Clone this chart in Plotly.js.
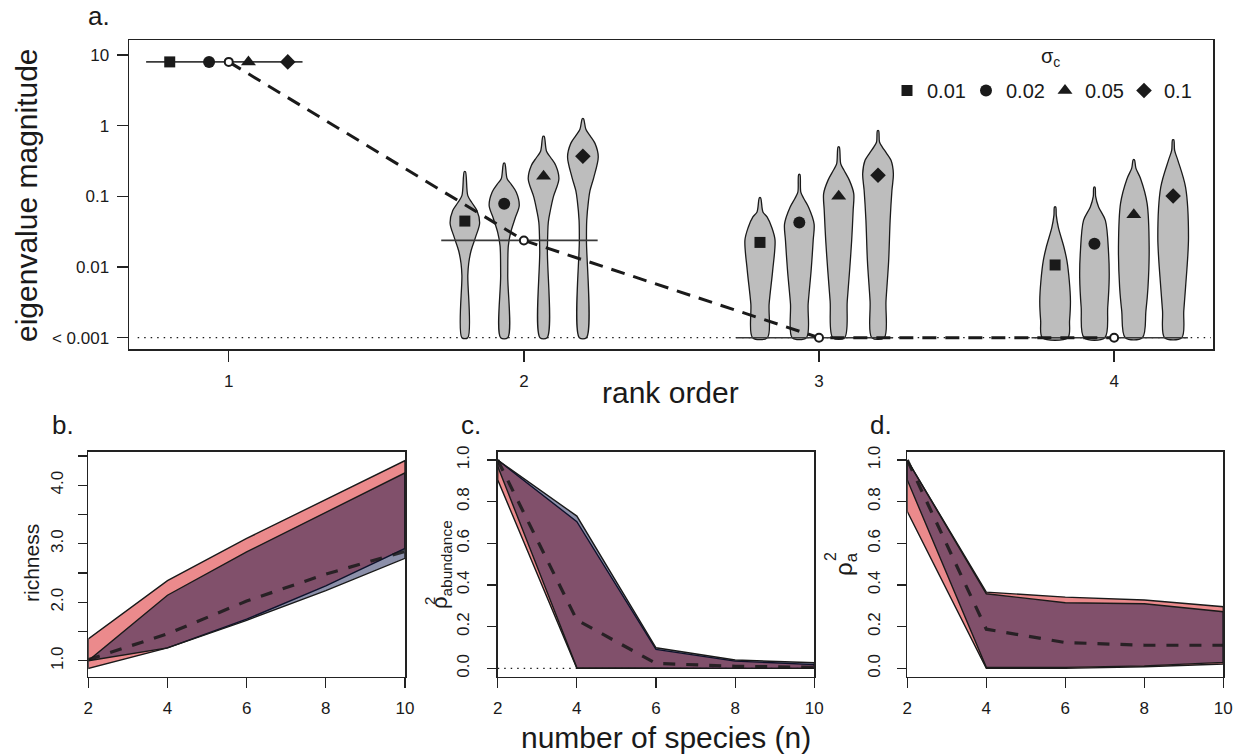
<!DOCTYPE html>
<html><head><meta charset="utf-8">
<script src="https://cdn.plot.ly/plotly-3.0.1.min.js"></script>
<style>html,body{margin:0;padding:0;background:#fff}#chart{width:1243px;height:754px}</style>
</head><body><div id="chart"></div>
<script>
// ---------------- DATA ----------------
// Panel a: eigenvalue magnitude by rank order
const ranks = [1, 2, 3, 4];
const rankLabels = ['1', '2', '3', '4'];
const sigmaLabels = ['0.01', '0.02', '0.05', '0.1'];
const med_s001 = [8, 0.0447, 0.0223, 0.0107];
const med_s002 = [8, 0.0787, 0.0428, 0.0213];
const med_s005 = [8, 0.192, 0.100, 0.055];
const med_s01  = [8, 0.369, 0.199, 0.101];
const nullExpect = [8, 0.0238, 0.001, 0.001];
const floorValue = 0.001;
const yTickVals = [0.001, 0.01, 0.1, 1, 10];
const yTickText = ['< 0.001', '0.01', '0.1', '1', '10'];

// violin outlines: levels in log10(eigenvalue), half-widths in rank units
const vio_r2_s001 = {lev: [-3, -2.12, -1.95, -1.77, -1.58, -1.38, -1.20, -1.09, -0.99, -0.65], hw: [0.010, 0.010, 0.013, 0.021, 0.036, 0.050, 0.041, 0.024, 0.010, 0.002]};
const vio_r2_s002 = {lev: [-3, -2.12, -1.70, -1.51, -1.31, -1.13, -0.94, -0.83, -0.75, -0.53], hw: [0.012, 0.012, 0.014, 0.022, 0.037, 0.051, 0.041, 0.024, 0.010, 0.002]};
const vio_r2_s005 = {lev: [-3, -1.77, -1.37, -1.20, -1.01, -0.75, -0.56, -0.45, -0.36, -0.15], hw: [0.012, 0.013, 0.016, 0.023, 0.033, 0.052, 0.041, 0.024, 0.010, 0.002]};
const vio_r2_s01  = {lev: [-3, -1.62, -1.34, -1.06, -0.92, -0.73, -0.44, -0.25, -0.14, -0.05, 0.10], hw: [0.012, 0.012, 0.013, 0.019, 0.024, 0.037, 0.052, 0.041, 0.024, 0.010, 0.002]};
const vio_r3_s001 = {lev: [-3, -2.52, -2.05, -1.62, -1.44, -1.29, -1.22, -1.02], hw: [0.025, 0.031, 0.043, 0.051, 0.040, 0.024, 0.010, 0.002]};
const vio_r3_s002 = {lev: [-3, -2.52, -2.05, -1.62, -1.39, -1.15, -1.03, -0.94, -0.69], hw: [0.024, 0.030, 0.040, 0.047, 0.050, 0.031, 0.015, 0.005, 0.002]};
const vio_r3_s005 = {lev: [-3, -2.48, -2.05, -1.62, -1.20, -0.96, -0.77, -0.63, -0.54, -0.30], hw: [0.020, 0.029, 0.037, 0.044, 0.049, 0.051, 0.036, 0.018, 0.007, 0.002]};
const vio_r3_s01  = {lev: [-3, -2.48, -1.91, -1.34, -0.92, -0.68, -0.49, -0.39, -0.30, -0.23, -0.07], hw: [0.021, 0.027, 0.036, 0.041, 0.047, 0.052, 0.044, 0.029, 0.014, 0.005, 0.002]};
const vio_r4_s001 = {lev: [-3, -2.76, -2.48, -2.19, -1.91, -1.72, -1.44, -1.27, -1.15], hw: [0.043, 0.049, 0.052, 0.048, 0.040, 0.030, 0.011, 0.004, 0.002]};
const vio_r4_s002 = {lev: [-3, -2.57, -2.15, -1.81, -1.34, -1.15, -1.00, -0.87], hw: [0.035, 0.045, 0.050, 0.048, 0.037, 0.014, 0.004, 0.002]};
const vio_r4_s005 = {lev: [-3, -2.62, -2.29, -1.72, -1.10, -0.75, -0.60, -0.48], hw: [0.029, 0.041, 0.048, 0.052, 0.045, 0.023, 0.007, 0.002]};
const vio_r4_s01  = {lev: [-3, -2.62, -2.29, -1.58, -0.87, -0.49, -0.35, -0.20], hw: [0.029, 0.036, 0.042, 0.052, 0.042, 0.016, 0.005, 0.002]};

// Panels b-d: by number of species
const nSpecies = [2, 4, 6, 8, 10];
const nTickText = ['2', '4', '6', '8', '10'];
// b. richness
const richRedUpper  = [1.375, 2.37, 3.09, 3.75, 4.42];
const richRedLower  = [0.87, 1.22, 1.71, 2.28, 2.92];
const richBlueUpper = [1.0, 2.12, 2.86, 3.54, 4.21];
const richBlueLower = [1.0, 1.22, 1.69, 2.20, 2.75];
const richMean      = [1.02, 1.46, 2.02, 2.48, 2.87];
const richTickVals  = [1.0, 2.0, 3.0, 4.0];
const richTickText  = ['1.0', '2.0', '3.0', '4.0'];
const richMinorTicks = [1.5, 2.5, 3.5, 4.5];
// c. rho^2 abundance
const abRedUpper  = [1.0, 0.704, 0.091, 0.035, 0.018];
const abRedLower  = [0.905, 0.0, 0.0, 0.0, 0.0];
const abBlueUpper = [1.0, 0.731, 0.099, 0.040, 0.027];
const abBlueLower = [0.97, 0.003, 0.0, 0.0, 0.0];
const abMean      = [1.0, 0.232, 0.024, 0.010, 0.005];
// d. rho^2 a
const aRedUpper  = [1.0, 0.366, 0.342, 0.328, 0.296];
const aRedLower  = [0.753, 0.0, 0.0, 0.008, 0.021];
const aBlueUpper = [1.0, 0.358, 0.315, 0.310, 0.272];
const aBlueLower = [0.904, 0.005, 0.005, 0.012, 0.029];
const aMean      = [1.0, 0.188, 0.124, 0.111, 0.111];
const rhoTickVals = [0, 0.2, 0.4, 0.6, 0.8, 1.0];
const rhoTickText = ['0.0', '0.2', '0.4', '0.6', '0.8', '1.0'];

// ---------------- STYLE / LAYOUT ----------------
const W = 1243, H = 754;
const px = v => v / W, py = v => 1 - v / H;
const FONT = 'Liberation Sans, Arial, Helvetica, sans-serif';
const INK = '#1a1a1a';
const groupOffset = [-0.2, -0.0667, 0.0667, 0.2];
const symbols = ['square', 'circle', 'triangle-up', 'diamond'];
const symSize = [11, 12, 13, 12];
const RED = 'rgba(222,60,64,0.6)';
const BLUE = 'rgba(0,8,66,0.45)';
const lg = v => Math.log10(v);

const traces = [];
// violins
const vioSets = [
  [vio_r2_s001, vio_r2_s002, vio_r2_s005, vio_r2_s01],
  [vio_r3_s001, vio_r3_s002, vio_r3_s005, vio_r3_s01],
  [vio_r4_s001, vio_r4_s002, vio_r4_s005, vio_r4_s01]
];
vioSets.forEach((set, ri) => {
  const r = ranks[ri + 1];
  set.forEach((v, gi) => {
    const c = r + groupOffset[gi];
    const xs = [], ys = [];
    for (let i = 0; i < v.lev.length; i++) { xs.push(c + v.hw[i]); ys.push(v.lev[i]); }
    for (let i = v.lev.length - 1; i >= 0; i--) { xs.push(c - v.hw[i]); ys.push(v.lev[i]); }
    xs.push(xs[0]); ys.push(ys[0]);
    traces.push({x: xs, y: ys, xaxis: 'x', yaxis: 'y', mode: 'lines', fill: 'toself',
      fillcolor: '#bdbdbd', line: {color: INK, width: 1.3, shape: 'spline', smoothing: 0.9},
      showlegend: false, hoverinfo: 'skip'});
  });
});
// horizontal null-expectation lines
const hx = [], hy = [];
ranks.forEach((r, i) => { hx.push(r - 0.28, r + 0.25, null); const l = lg(nullExpect[i]); hy.push(l, l, null); });
traces.push({x: hx, y: hy, xaxis: 'x', yaxis: 'y', mode: 'lines', line: {color: '#3a3a3a', width: 1.6},
  showlegend: false, hoverinfo: 'skip'});
// dashed null line
traces.push({x: ranks, y: nullExpect.map(lg), xaxis: 'x', yaxis: 'y', mode: 'lines',
  line: {color: INK, width: 3, dash: '14px,9px'}, showlegend: false});
// open circles
traces.push({x: ranks, y: nullExpect.map(lg), xaxis: 'x', yaxis: 'y', mode: 'markers',
  marker: {symbol: 'circle', size: 8, color: '#fff', line: {color: INK, width: 2}}, showlegend: false});
// group medians
[med_s001, med_s002, med_s005, med_s01].forEach((m, gi) => {
  traces.push({x: ranks.map(r => r + groupOffset[gi]), y: m.map(lg), xaxis: 'x', yaxis: 'y',
    mode: 'markers', name: sigmaLabels[gi],
    marker: {symbol: symbols[gi], size: symSize[gi], color: INK, line: {width: 0}}, showlegend: true});
});

// bottom panels
function band(up, lo, color, xa, ya) {
  return {x: nSpecies.concat(nSpecies.slice().reverse(), [nSpecies[0]]),
    y: up.concat(lo.slice().reverse(), [up[0]]), xaxis: xa, yaxis: ya, mode: 'lines', fill: 'toself',
    fillcolor: color, line: {color: INK, width: 1.4}, showlegend: false, hoverinfo: 'skip'};
}
function meanLine(m, xa, ya) {
  return {x: nSpecies, y: m, xaxis: xa, yaxis: ya, mode: 'lines',
    line: {color: 'rgba(25,25,25,0.85)', width: 3.2, dash: '12px,11px'}, showlegend: false};
}
traces.push(band(richRedUpper, richRedLower, RED, 'x2', 'y2'));
traces.push(band(richBlueUpper, richBlueLower, BLUE, 'x2', 'y2'));
traces.push(meanLine(richMean, 'x2', 'y2'));
traces.push(band(abRedUpper, abRedLower, RED, 'x3', 'y3'));
traces.push(band(abBlueUpper, abBlueLower, BLUE, 'x3', 'y3'));
traces.push(meanLine(abMean, 'x3', 'y3'));
traces.push(band(aRedUpper, aRedLower, RED, 'x4', 'y4'));
traces.push(band(aBlueUpper, aBlueLower, BLUE, 'x4', 'y4'));
traces.push(meanLine(aMean, 'x4', 'y4'));

const axBase = () => ({showgrid: false, zeroline: false, showline: true, mirror: true, linecolor: '#222',
  linewidth: 1.5, ticks: 'outside', tickcolor: '#222', tickwidth: 1.3,
  tickfont: {family: FONT, size: 17, color: INK}, fixedrange: true});

const bottomY = [py(676.7), py(451.7)];
const layout = {
  width: W, height: H, margin: {l: 0, r: 0, t: 0, b: 0}, paper_bgcolor: '#fff', plot_bgcolor: '#fff',
  font: {family: FONT, color: INK, size: 17},
  xaxis: Object.assign(axBase(), {domain: [px(129), px(1213)], range: [0.662, 4.335], anchor: 'y',
    tickvals: ranks, ticktext: rankLabels, ticklen: 11, ticklabelstandoff: 5}),
  yaxis: Object.assign(axBase(), {domain: [py(349), py(40)], range: [-3.16, 1.213], anchor: 'x',
    tickvals: yTickVals.map(lg), ticktext: yTickText, ticklen: 11, ticklabelstandoff: 4}),
  xaxis2: Object.assign(axBase(), {domain: [px(88.3), px(405)], range: [2, 10], anchor: 'y2',
    tickvals: nSpecies, ticktext: nTickText, ticklen: 10, ticklabelstandoff: 5}),
  yaxis2: Object.assign(axBase(), {domain: bottomY, range: [0.728, 4.572], anchor: 'x2',
    tickvals: richTickVals, ticktext: richTickText, ticklen: 9, tickangle: -90, ticklabelstandoff: 8,
    minor: {tickmode: 'array', tickvals: richMinorTicks, ticks: 'outside', ticklen: 9, tickwidth: 1.3,
      tickcolor: '#222', showgrid: false}}),
  xaxis3: Object.assign(axBase(), {domain: [px(497.7), px(814.3)], range: [2, 10], anchor: 'y3',
    tickvals: nSpecies, ticktext: nTickText, ticklen: 10, ticklabelstandoff: 5}),
  yaxis3: Object.assign(axBase(), {domain: bottomY, range: [-0.04, 1.04], anchor: 'x3',
    tickvals: rhoTickVals, ticktext: rhoTickText, ticklen: 9, tickangle: -90, ticklabelstandoff: 11}),
  xaxis4: Object.assign(axBase(), {domain: [px(907.3), px(1223.3)], range: [2, 10], anchor: 'y4',
    tickvals: nSpecies, ticktext: nTickText, ticklen: 10, ticklabelstandoff: 5}),
  yaxis4: Object.assign(axBase(), {domain: bottomY, range: [-0.04, 1.04], anchor: 'x4',
    tickvals: rhoTickVals, ticktext: rhoTickText, ticklen: 9, tickangle: -90, ticklabelstandoff: 10}),
  showlegend: true,
  legend: {orientation: 'h', x: px(1203), xanchor: 'right', y: py(71), yanchor: 'top',
    bgcolor: 'rgba(0,0,0,0)', borderwidth: 0, font: {family: FONT, size: 20, color: INK},
    entrywidth: 34, entrywidthmode: 'pixels',
    itemclick: false, itemdoubleclick: false, tracegroupgap: 0},
  shapes: [
    {type: 'line', xref: 'x domain', yref: 'y', x0: 0.008, x1: 0.998, y0: lg(floorValue), y1: lg(floorValue),
      layer: 'below', line: {color: INK, width: 1.2, dash: '1.5px,5px'}},
    {type: 'line', xref: 'x3 domain', yref: 'y3', x0: 0, x1: 1, y0: 0, y1: 0,
      layer: 'below', line: {color: INK, width: 1.2, dash: '1.5px,5px'}}
  ],
  annotations: [
    {text: 'a.', x: px(86), y: py(16), xanchor: 'left', yanchor: 'middle', font: {size: 26}},
    {text: 'b.', x: px(50), y: py(425), xanchor: 'left', yanchor: 'middle', font: {size: 26}},
    {text: 'c.', x: px(459), y: py(425), xanchor: 'left', yanchor: 'middle', font: {size: 26}},
    {text: 'd.', x: px(868), y: py(425), xanchor: 'left', yanchor: 'middle', font: {size: 26}},
    {text: 'eigenvalue magnitude', x: px(27), y: py(195), textangle: -90, font: {size: 30}},
    {text: 'rank order', x: px(671), y: py(392), font: {size: 30}},
    {text: 'number of species (n)', x: px(666), y: py(737), font: {size: 30}},
    {text: 'richness', x: px(31), y: py(563), textangle: -90, font: {size: 21}},
    {text: 'σ<sub>c</sub>', x: px(1050), y: py(58), font: {size: 20}},
    {text: 'ρ<sub>abundance</sub>', x: px(441), y: py(565), textangle: -90, font: {size: 22}},
    {text: '2', x: px(429), y: py(601), textangle: -90, font: {size: 15}},
    {text: 'ρ<sub>a</sub>', x: px(845), y: py(564), textangle: -90, font: {size: 24}},
    {text: '2', x: px(830), y: py(557), textangle: -90, font: {size: 16}}
  ].map(a => Object.assign({xref: 'paper', yref: 'paper', showarrow: false,
    xanchor: a.xanchor || 'center', yanchor: a.yanchor || 'middle'}, a,
    {font: Object.assign({family: FONT, color: INK}, a.font)}))
};

Plotly.newPlot('chart', traces, layout, {displayModeBar: false, staticPlot: true});
</script></body></html>
